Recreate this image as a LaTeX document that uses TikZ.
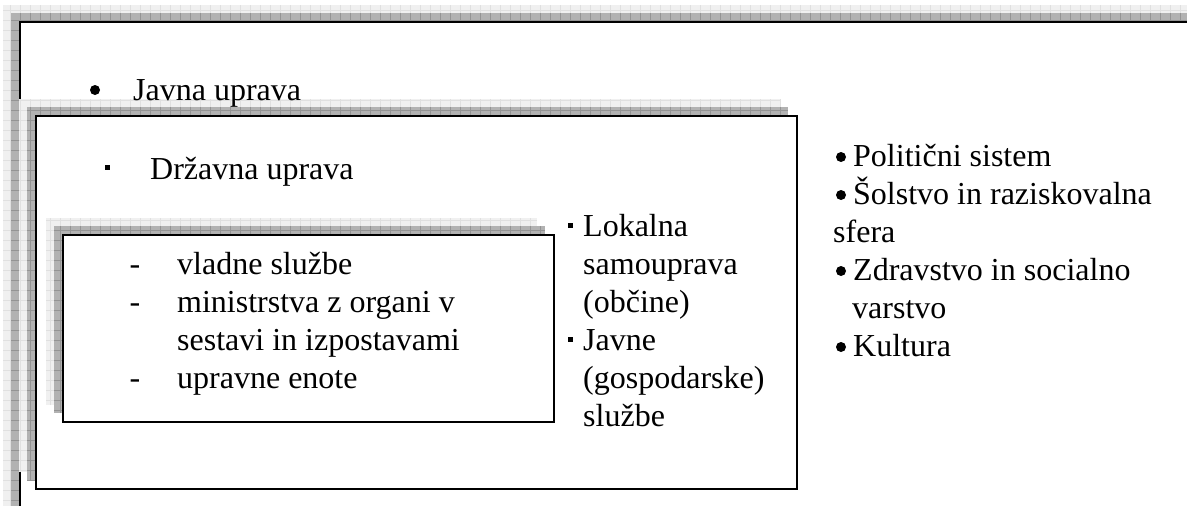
\documentclass[tikz,border=0pt]{standalone}
\usepackage{fontspec}
\setmainfont{Liberation Serif}
\tikzset{
  txt/.style={inner sep=0pt, anchor=base west, font=\fontsize{32}{38}\selectfont},
  ctr/.style={inner sep=0pt, anchor=base, font=\fontsize{32}{38}\selectfont},
  sqbullet/.style={fill=black, inner sep=0pt, minimum size=5pt, shape=rectangle},
  dotbullet/.style={fill=black, inner sep=0pt, minimum size=10pt, shape=circle},
  boxline/.style={draw=black, line width=2pt, fill=white},
  shlight/.style={fill=black!6},
  shlightgrid/.style={draw=black!12, line width=0.6pt},
  shdark/.style={fill=black!30},
  shdarkgrid/.style={draw=black!42, line width=0.6pt},
}
\newcommand\shadowrect[5]{%
  \fill[shlight] (#1-16,#2-16) rectangle (#3-16,#4-16);
  \draw[shlightgrid, step=10pt] (#1-16,#2-16) grid (#3-16,#4-16);
  \fill[shdark] (#1-8,#2-8) rectangle (#3-8,#4-8);
  \draw[shdarkgrid, step=10pt] (#1-8,#2-8) grid (#3-8,#4-8);
  \node[boxline, inner sep=0pt, anchor=north west, minimum width=#3-#1, minimum height=#4-#2] (#5) at (#1,#2) {};
}
\begin{document}
\begin{tikzpicture}[x=1pt,y=-1pt]
\useasboundingbox (0,0) rectangle (1187,506);
\clip (0,0) rectangle (1187,506);
\fill[white] (0,0) rectangle (1187,506);
% outer box
\shadowrect{19}{21}{1300}{600}{outer}
% second box
\shadowrect{35}{115}{796}{488}{mid}
\node[dotbullet] (b0) at (95,90) {};
\node[txt] (t0) at (133,100) {Javna uprava};
\node[sqbullet] (s1) at (107.5,167.5) {};
\node[txt] (t1) at (150,179) {Državna uprava};
% third box
\shadowrect{62}{234}{553}{421}{inner}
\node[ctr] (d1) at (135,274) {-};
\node[txt] (v1) at (177,274) {vladne službe};
\node[ctr] (d2) at (135,312) {-};
\node[txt] (v2) at (177,312) {ministrstva z organi v};
\node[txt] (v3) at (177,350) {sestavi in izpostavami};
\node[ctr] (d3) at (135,388) {-};
\node[txt] (v4) at (177,388) {upravne enote};
% middle column
\node[sqbullet] (s2) at (570,225) {};
\node[txt] (m1) at (583,236) {Lokalna};
\node[txt] (m2) at (583,274) {samouprava};
\node[txt] (m3) at (583,312) {(občine)};
\node[sqbullet] (s3) at (570,339) {};
\node[txt] (m4) at (583,350) {Javne};
\node[txt] (m5) at (583,388) {(gospodarske)};
\node[txt] (m6) at (583,426) {službe};
% right column
\node[dotbullet] (r0) at (841,157) {};
\node[txt] (r1) at (853,166) {Politični sistem};
\node[dotbullet] (r2b) at (841,195) {};
\node[txt] (r2) at (853,204) {Šolstvo in raziskovalna};
\node[txt] (r3) at (833,242) {sfera};
\node[dotbullet] (r4b) at (841,271) {};
\node[txt] (r4) at (853,280) {Zdravstvo in socialno};
\node[txt] (r5) at (852,318) {varstvo};
\node[dotbullet] (r6b) at (841,347) {};
\node[txt] (r6) at (853,356) {Kultura};
\end{tikzpicture}
\end{document}
